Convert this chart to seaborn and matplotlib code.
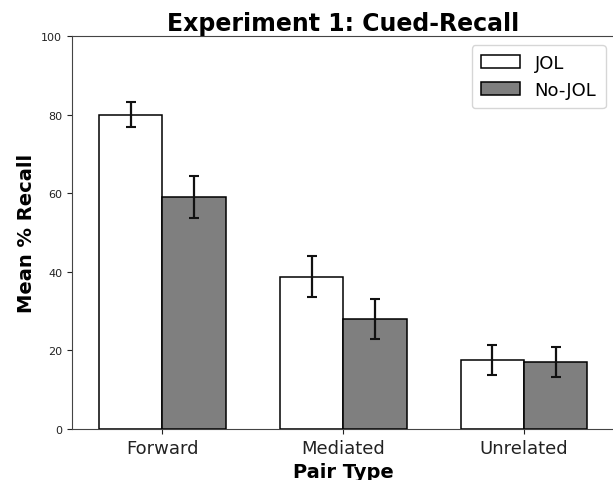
import pandas as pd
import matplotlib
matplotlib.use("Agg")
import matplotlib.pyplot as plt
import seaborn as sns

# values
pair_types = ["Forward", "Mediated", "Unrelated"]
conditions = ["JOL", "No-JOL"]
jol_mean = [80.0, 38.8, 17.6]
nojol_mean = [59.0, 28.0, 17.0]
jol_err = [3.2, 5.2, 3.8]
nojol_err = [5.3, 5.2, 3.8]

df = pd.DataFrame({
    "pair": pair_types * 2,
    "cond": [conditions[0]] * 3 + [conditions[1]] * 3,
    "recall": jol_mean + nojol_mean,
    "err": jol_err + nojol_err,
})

sns.set_style("ticks")
plt.rcParams["font.family"] = ["DejaVu Sans"]
plt.rcParams["text.color"] = "black"
plt.rcParams["axes.labelcolor"] = "black"
plt.rcParams["xtick.color"] = "#222222"
plt.rcParams["ytick.color"] = "#222222"

fig = plt.figure(figsize=(6.13, 4.81), dpi=100)
ax = fig.add_axes([0.1175, 0.106, 0.885, 0.817])

sns.barplot(data=df, x="pair", y="recall", hue="cond", order=pair_types,
            hue_order=conditions, palette=["white", "#7f7f7f"],
            edgecolor="black", linewidth=1.1, width=0.7, errorbar=None,
            saturation=1, ax=ax)

# error bars at the bar centres
for cond, cont in zip(conditions, ax.containers):
    sub = df[df["cond"] == cond].set_index("pair").loc[pair_types]
    xs = [p.get_x() + p.get_width() / 2 for p in cont.patches]
    ax.errorbar(xs, sub["recall"], yerr=sub["err"], fmt="none",
                ecolor="#111111", elinewidth=1.6, capsize=3.5, capthick=1.5)

ax.set_ylim(0, 100)
ax.set_xlim(-0.5, 2.5)
ax.set_yticks([0, 20, 40, 60, 80, 100])
ax.tick_params(axis="y", labelsize=8)
ax.tick_params(axis="x", labelsize=13)
ax.set_title("Experiment 1: Cued-Recall", fontsize=17, fontweight="bold", pad=4)
ax.set_xlabel("Pair Type", fontsize=14, fontweight="bold")
ax.set_ylabel("Mean % Recall", fontsize=14, fontweight="bold")
for s in ax.spines.values():
    s.set_color("#444444")
ax.spines["right"].set_visible(False)

leg = ax.legend(title=None, fontsize=13, loc="upper right", frameon=True,
                handlelength=2.2, borderpad=0.5)
leg.get_frame().set_edgecolor("#cccccc")

fig.savefig("out.png", dpi=100)
